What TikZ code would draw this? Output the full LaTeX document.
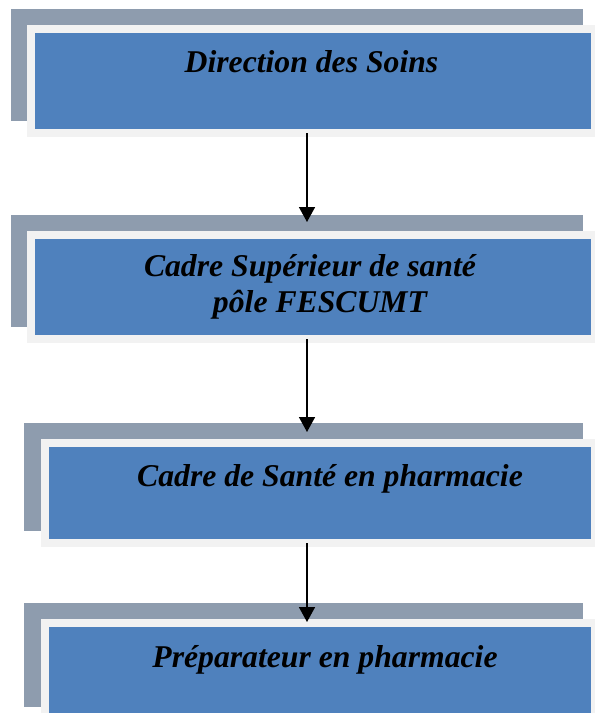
\documentclass[tikz,border=0pt]{standalone}
\usepackage{fontspec}
\setmainfont{Liberation Serif}
\usetikzlibrary{arrows.meta}
\definecolor{shadowgray}{HTML}{8E9CAE}
\definecolor{framelight}{HTML}{F2F2F2}
\definecolor{boxblue}{HTML}{4F81BD}
\begin{document}
\begin{tikzpicture}[x=1pt,y=-1pt,
  rbox/.style={rectangle,inner sep=0pt,outer sep=0pt,anchor=north west,draw=none},
  gbox/.style={rbox,fill=shadowgray},
  lbox/.style={rbox,fill=framelight},
  bbox/.style={rbox,fill=boxblue},
  lab/.style={anchor=base,inner sep=0pt,font=\fontsize{31.7}{36}\selectfont\bfseries\itshape},
  arr/.style={line width=1.6pt,-{Triangle[width=16pt,length=15pt]}}]
\useasboundingbox (0,0) rectangle (595,713);
% box 1
\node[gbox,minimum width=572pt,minimum height=112pt] (g1) at (11,9) {};
\node[lbox,minimum width=568pt,minimum height=112pt] (l1) at (27,25) {};
\node[bbox,minimum width=556pt,minimum height=96pt] (b1) at (35,33) {};
% box 2
\node[gbox,minimum width=572pt,minimum height=112pt] (g2) at (11,215) {};
\node[lbox,minimum width=568pt,minimum height=112pt] (l2) at (27,231) {};
\node[bbox,minimum width=556pt,minimum height=96pt] (b2) at (35,239) {};
% box 3
\node[gbox,minimum width=559pt,minimum height=108pt] (g3) at (24,423) {};
\node[lbox,minimum width=554pt,minimum height=108pt] (l3) at (41,439) {};
\node[bbox,minimum width=542pt,minimum height=92pt] (b3) at (49,447) {};
% box 4
\node[gbox,minimum width=559pt,minimum height=104pt] (g4) at (24,603) {};
\node[lbox,minimum width=554pt,minimum height=96pt] (l4) at (41,619) {};
\node[bbox,minimum width=542pt,minimum height=88pt] (b4) at (49,627) {};
% texts
\node[lab] (t1) at (311.5,72) {Direction des Soins};
\node[lab] (t2a) at (310,276) {Cadre Supérieur de santé};
\node[lab] (t2b) at (320,312) {pôle FESCUMT};
\node[lab] (t3) at (330,486) {Cadre de Santé en pharmacie};
\node[lab] (t4) at (325,667) {Préparateur en pharmacie};
% arrows
\coordinate (ax) at (307,0);
\draw[arr] ([yshift=-4pt]b1.south -| ax) -- ([yshift=-7pt]g2.north -| ax);
\draw[arr] ([yshift=-4pt]b2.south -| ax) -- ([yshift=-9pt]g3.north -| ax);
\draw[arr] ([yshift=-4pt]b3.south -| ax) -- ([yshift=-19pt]g4.north -| ax);
\end{tikzpicture}
\end{document}
